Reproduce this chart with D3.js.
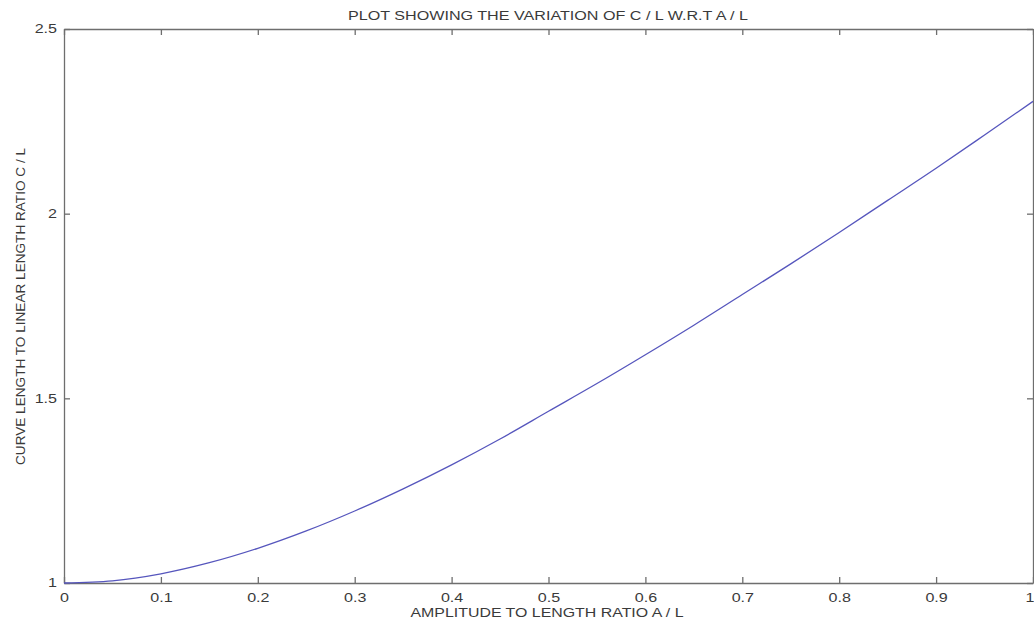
<!DOCTYPE html>
<html>
<head>
<meta charset="utf-8">
<script src="https://cdn.jsdelivr.net/npm/d3@7"></script>
<style>
  html, body { margin: 0; padding: 0; background: #fff; }
  svg { display: block; }
  text { font-family: "Liberation Sans", Arial, sans-serif; }
</style>
</head>
<body>
<svg id="chart" width="1034" height="626"></svg>
<script>
// Data
const ampRatio = [0, 0.05, 0.1, 0.15, 0.2, 0.25, 0.3, 0.35, 0.4, 0.45, 0.5,
                  0.55, 0.6, 0.65, 0.7, 0.75, 0.8, 0.85, 0.9, 0.95, 1.0];
const curveRatio = [1.000, 1.006, 1.025, 1.055, 1.094, 1.141, 1.195, 1.255, 1.320, 1.390, 1.465,
                    1.540, 1.618, 1.698, 1.781, 1.864, 1.949, 2.036, 2.123, 2.213, 2.304];
const xTicks = [0, 0.1, 0.2, 0.3, 0.4, 0.5, 0.6, 0.7, 0.8, 0.9, 1];
const yTicks = [1, 1.5, 2, 2.5];
const titleText = "PLOT SHOWING THE VARIATION OF C / L W.R.T A / L";
const xLabelText = "AMPLITUDE TO LENGTH RATIO A / L";
const yLabelText = "CURVE LENGTH TO LINEAR LENGTH RATIO C / L";

const svg = d3.select("#chart");
const m = { left: 64, right: 1033, top: 29, bottom: 583 };
const stretch = 1.34; // the reference text is widened horizontally

const x = d3.scaleLinear().domain([0, 1]).range([m.left, m.right]);
const y = d3.scaleLinear().domain([1, 2.5]).range([m.bottom, m.top]);

const axisColor = "#6e6e6e";
const textColor = "#3a3a3a";

// Bottom axis (ticks inward)
const gB = svg.append("g").attr("transform", `translate(0,${m.bottom})`)
  .call(d3.axisBottom(x).tickValues(xTicks).tickFormat(d => String(d)).tickSizeInner(-6).tickSizeOuter(0).tickPadding(10));
// Top axis (mirror ticks)
const gT = svg.append("g").attr("transform", `translate(0,${m.top})`)
  .call(d3.axisTop(x).tickValues(xTicks).tickFormat("").tickSizeInner(-6).tickSizeOuter(0));
// Left axis
const gL = svg.append("g").attr("transform", `translate(${m.left},0)`)
  .call(d3.axisLeft(y).tickValues(yTicks).tickFormat(d => String(d)).tickSizeInner(-6).tickSizeOuter(0).tickPadding(7));
// Right axis (mirror ticks)
const gR = svg.append("g").attr("transform", `translate(${m.right},0)`)
  .call(d3.axisRight(y).tickValues(yTicks).tickFormat("").tickSizeInner(-6).tickSizeOuter(0));

[gB, gT, gL, gR].forEach(g => {
  g.select(".domain").attr("stroke", axisColor).attr("stroke-width", 1.3);
  g.selectAll(".tick line").attr("stroke", axisColor).attr("stroke-width", 1.3);
  g.selectAll(".tick text").attr("fill", textColor).attr("font-size", 12)
    .attr("font-family", "'Liberation Sans', Arial, sans-serif")
    .each(function () {
      const w = this.getComputedTextLength();
      if (w > 0) {
        d3.select(this).attr("textLength", (w * stretch).toFixed(2))
          .attr("lengthAdjust", "spacingAndGlyphs");
      }
    });
});
// keep the last x label (at the right edge) inside the picture
gB.selectAll(".tick text").filter(d => d === 1).attr("text-anchor", "end").attr("dx", 1);

// Curve
const line = d3.line()
  .x((d, i) => x(ampRatio[i]))
  .y(d => y(d))
  .curve(d3.curveMonotoneX);

svg.append("path")
  .datum(curveRatio)
  .attr("fill", "none")
  .attr("stroke", "#5656bd")
  .attr("stroke-width", 1.3)
  .attr("d", line);

// Title
svg.append("text")
  .attr("x", 548)
  .attr("y", 19.5)
  .attr("text-anchor", "middle")
  .attr("fill", textColor)
  .attr("font-size", 12.5)
  .attr("textLength", 400)
  .attr("lengthAdjust", "spacingAndGlyphs")
  .text(titleText);

// X label
svg.append("text")
  .attr("x", 547)
  .attr("y", 617)
  .attr("text-anchor", "middle")
  .attr("fill", textColor)
  .attr("font-size", 12.5)
  .attr("textLength", 273)
  .attr("lengthAdjust", "spacingAndGlyphs")
  .text(xLabelText);

// Y label
svg.append("text")
  .attr("transform", `translate(25,306.5) rotate(-90)`)
  .attr("text-anchor", "middle")
  .attr("fill", textColor)
  .attr("font-size", 12.5)
  .attr("textLength", 317)
  .attr("lengthAdjust", "spacingAndGlyphs")
  .text(yLabelText);
</script>
</body>
</html>
